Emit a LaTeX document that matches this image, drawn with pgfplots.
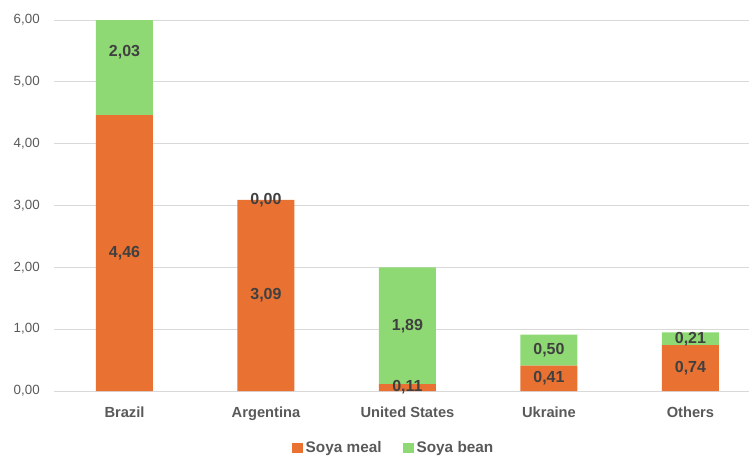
\documentclass[border=0pt]{standalone}
\usepackage{pgfplots}
\pgfplotsset{compat=1.18}
\usepackage{pgfplotstable}
\usepackage{fontspec}
\setmainfont{Liberation Sans}
\definecolor{meal}{HTML}{E97132}
\definecolor{bean}{HTML}{8ED973}
\definecolor{gridc}{HTML}{D9D9D9}
\definecolor{tickc}{HTML}{595959}
\definecolor{lblc}{HTML}{404040}
\pgfplotstableread{
x meal bean
0 4.46 2.03
1 3.09 0.00
2 0.11 1.89
3 0.41 0.50
4 0.74 0.21
}\data
% label positions: middle of each segment
\pgfplotstableread{
x y v
0 2.230 4.46
1 1.545 3.09
2 0.055 0.11
3 0.205 0.41
4 0.370 0.74
0 5.475 2.03
1 3.090 0.00
2 1.055 1.89
3 0.660 0.50
4 0.845 0.21
}\labels
\pgfplotsset{geom/.style={
  at={(40.3pt,50.25pt)}, anchor=south west,
  scale only axis, width=530.6pt, height=278.25pt,
  xmin=-0.5, xmax=4.5, ymin=0, ymax=6}}
\begin{document}
\begin{tikzpicture}
\path[use as bounding box] (0,0) rectangle (561.75pt,343.5pt);
\begin{axis}[
  geom,
  ybar stacked, bar width=42.75pt,
  xtick=data, xticklabels={Brazil,Argentina,United States,Ukraine,Others},
  ytick={0,1,2,3,4,5,6},
  ymajorgrids, grid style={gridc, line width=0.75pt},
  axis line style={draw=none}, tick style={draw=none},
  /pgf/number format/.cd, fixed, fixed zerofill, precision=2, use comma, assume math mode=true,
  /pgfplots/.cd,
  yticklabel style={font=\fontsize{10}{12}\selectfont, text=tickc, xshift=-7pt},
  xticklabel style={font=\bfseries\fontsize{11}{13}\selectfont, text=tickc, yshift=-8pt},
  legend style={at={(0.481,-0.1536)}, anchor=center, draw=none, fill=none,
    legend columns=2, font=\bfseries\fontsize{11.5}{13}\selectfont, text=tickc,
    /tikz/every even column/.append style={column sep=14pt}},
  legend image code/.code={\fill[#1] (0pt,-4.1pt) rectangle (8.25pt,4.1pt);},
]
\addplot[fill=meal, draw=none] table[x=x, y=meal] {\data};
\addplot[fill=bean, draw=none] table[x=x, y=bean] {\data};
\legend{Soya meal, Soya bean}
\end{axis}
\begin{axis}[
  geom, hide axis,
  /pgf/number format/.cd, fixed, fixed zerofill, precision=2, use comma, assume math mode=true,
  /pgfplots/.cd,
]
\addplot[only marks, mark=none, nodes near coords, point meta=explicit,
  every node near coord/.append style={anchor=center,
    font=\bfseries\fontsize{12}{14}\selectfont, text=lblc}]
  table[x=x, y=y, meta=v] {\labels};
\end{axis}
\end{tikzpicture}
\end{document}
